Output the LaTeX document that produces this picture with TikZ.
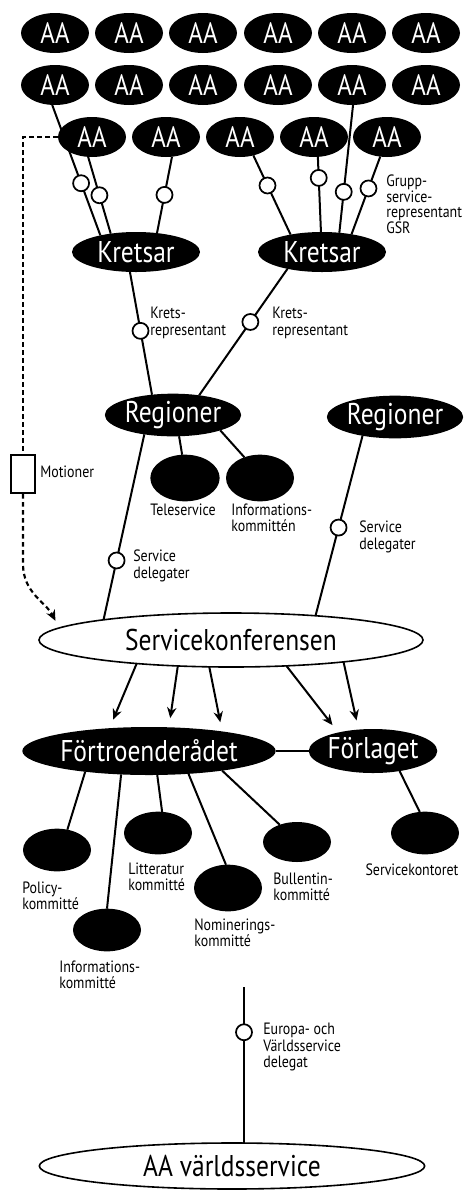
\documentclass[tikz,border=0pt]{standalone}
\usepackage{fontspec}
\setmainfont{PT Sans}[FakeStretch=0.85]
\usetikzlibrary{shapes.geometric,arrows.meta,positioning}

\tikzset{
  group/.style={ellipse, fill=black, text=white, inner sep=0pt, outer sep=0pt,
    minimum width=51pt, minimum height=30pt, font=\fontsize{22}{24}\selectfont},
  body/.style={group, font=\fontsize{22.5}{24}\selectfont},
  cttee/.style={ellipse, fill=black, inner sep=0pt, outer sep=0pt,
    minimum width=51pt, minimum height=32pt},
  outline/.style={ellipse, draw, line width=1.2pt, fill=white, inner sep=0pt,
    outer sep=0pt, font=\fontsize{22.5}{24}\selectfont},
  ring/.style={circle, draw, fill=white, line width=1.3pt, inner sep=0pt,
    minimum size=12pt},
  note/.style={align=left, inner sep=0pt, anchor=west,
    font=\fontsize{12.3}{12.3}\selectfont},
  link/.style={line width=1.5pt},
  motion/.style={line width=1.6pt, dash pattern=on 3.5pt off 2.5pt},
}

\begin{document}
\begin{tikzpicture}[x=0.75pt, y=-0.75pt, >={Stealth[length=8pt,width=7pt]}]
    \useasboundingbox (0,0) rectangle (465,1190);

    % Define nodes
    \foreach \i/\x in {1/55,2/129,3/203,4/278,5/352,6/426} {
      \node[group] (aa1\i) at (\x,33) {AA};
      \node[group] (aa2\i) at (\x,85) {AA};
    }
    \foreach \i/\x in {1/92,2/166,3/240,4/314,5/387}
      \node[group] (aa3\i) at (\x,137) {AA};

    \node[body, minimum width=96pt]                       (kr1)  at (136,252) {Kretsar};
    \node[body, minimum width=96pt]                       (kr2)  at (322,252) {Kretsar};
    \node[body, minimum width=97.5pt, minimum height=32pt] (reg1) at (173,415) {Regioner};
    \node[body, minimum width=95pt, minimum height=32pt]   (reg2) at (395,417) {Regioner};
    \node[cttee, minimum width=52pt, minimum height=35pt]  (tele) at (185,478) {};
    \node[cttee, minimum height=35pt]                      (info) at (260,478) {};
    \node[outline, minimum width=288pt, minimum height=40.5pt] (sk) at (231,640) {Servicekonferensen};
    \node[body, minimum width=190pt, minimum height=36pt]  (ft)   at (149,751) {Förtroenderådet};
    \node[body, minimum width=96pt, minimum height=33pt]   (fl)   at (373,751) {Förlaget};
    \node[cttee]                                           (policy) at (57,850) {};
    \node[cttee]                                           (infok)  at (107,930) {};
    \node[cttee]                                           (litt)   at (158,833) {};
    \node[cttee, minimum height=35pt]                      (nom)    at (228,888) {};
    \node[cttee, minimum height=30pt]                      (bull)   at (297,842) {};
    \node[cttee]                                           (skont)  at (425,833) {};
    \node[outline, minimum width=289pt, minimum height=34.5pt] (avs) at (232,1166) {AA världsservice};
    \node[draw, line width=1.5pt, inner sep=0pt, minimum width=18pt, minimum height=28.5pt] (mot) at (23,474) {};
    \coordinate (wtop) at (244,987);

    % Group representatives
    \draw[link] (aa21.262) -- node[ring, pos=.60] (g1) {} (kr1.155);
    \draw[link] (aa31.259) -- node[ring, pos=.50] (g2) {} (kr1.144);
    \draw[link] (aa32.287) -- node[ring, pos=.50] (g3) {} (kr1.42);
    \draw[link] (aa33.306) -- node[ring, pos=.38] (g4) {} (kr2.151);
    \draw[link] (aa34.281) -- node[ring, pos=.28] (g5) {} (kr2.93);
    \draw[link] (aa25.273) -- node[ring, pos=.68] (g6) {} (kr2.48);
    \draw[link] (aa35.251) -- node[ring, pos=.41] (g7) {} (kr2.31);
    \node[note, font=\fontsize{12.3}{11}\selectfont] (gsr) at (386,204) {Grupp-\\service-\\representant\\GSR};

    % Circuit representatives
    \draw[link] (kr1.253) -- node[ring, pos=.48] (k1) {} (reg1.136);
    \draw[link] (kr2.206) -- node[ring, pos=.42] (k2) {} (reg1.37);
    \node[note] (krl1) at (150,323) {Krets-\\representant};
    \node[note] (krl2) at (272,323) {Krets-\\representant};

    % Regional committees
    \draw[link] (reg1.286) -- (tele.97);
    \draw[link] (reg1.342) -- (info.127);
    \node[note, anchor=center] (telel) at (183,510) {Teleservice};
    \node[note] (infol) at (231,518) {Informations-\\kommittén};

    % Service delegates
    \draw[link] (reg1.214) -- node[ring, pos=.68] (d1) {} (sk.171);
    \draw[link] (reg2.210) -- node[ring, pos=.51] (d2) {} (sk.16);
    \node[note] (dl1) at (133,566) {Service\\delegater};
    \node[note] (dl2) at (359,537) {Service\\delegater};

    % Motions
    \draw[motion] (aa31.west) -| (mot.north);
    \draw[motion, ->, shorten >=6pt] (mot.south) -- ++(0,70) to[out=-90, in=117] (sk.176);
    \node[note] (motl) at (40,472) {Motioner};

    % Conference
    \draw[link, ->, shorten >=7pt] (sk.194) -- (ft.150);
    \draw[link, ->, shorten >=7pt] (sk.206) -- (ft.50);
    \draw[link, ->, shorten >=7pt] (sk.231) -- (ft.15);
    \draw[link, ->, shorten >=7pt] (sk.335) -- (fl.152);
    \draw[link, ->, shorten >=7pt] (sk.349) -- (fl.124);
    \draw[link] (ft.east) -- (fl.west);

    % Trustees committees
    \draw[link] (ft.198) -- (policy.63);
    \draw[link] (ft.220) -- (infok.90);
    \draw[link] (ft.289) -- (litt.79);
    \draw[link] (ft.330) -- (nom.95);
    \draw[link] (ft.345) -- (bull.135);
    \draw[link] (fl.323) -- (skont.104);
    \node[note, anchor=center] (skontl) at (412,870) {Servicekontoret};
    \node[note] (littl)   at (128,877) {Litteratur\\kommitté};
    \node[note] (bulll)   at (273,887) {Bullentin-\\kommitté};
    \node[note] (policyl) at (22,896)  {Policy-\\kommitté};
    \node[note] (infokl)  at (59,975)  {Informations-\\kommitté};
    \node[note] (noml)    at (194,933) {Nominerings-\\kommitté};

    % World service
    \draw[link] (wtop) -- node[ring, pos=.29] (w1) {} (wtop |- avs.north);
    \node[note] (wl) at (263,1047) {Europa- och\\Världsservice\\delegat};

\end{tikzpicture}
\end{document}
